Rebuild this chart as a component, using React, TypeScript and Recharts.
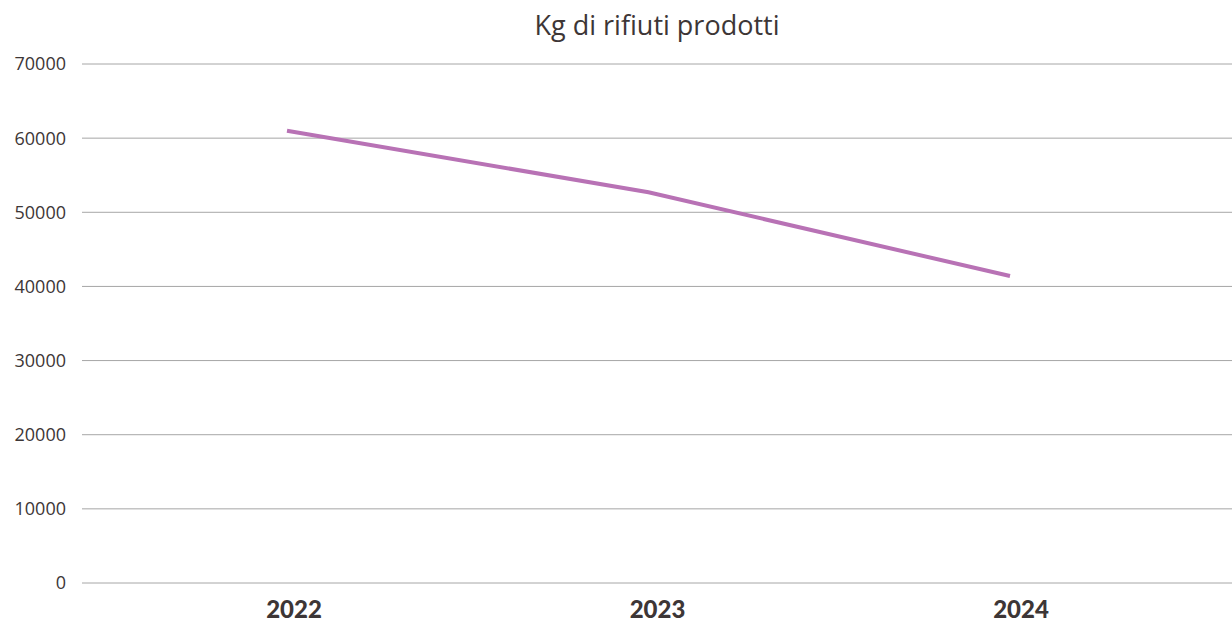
import React from 'react';
import { LineChart, Line, XAxis, YAxis, CartesianGrid } from 'recharts';

const years = ['2022', '2023', '2024'];
const rifiuti = [61000, 52700, 41400];
const yTicks = [0, 10000, 20000, 30000, 40000, 50000, 60000, 70000];

const data = years.map((year, i) => ({ year, kg: rifiuti[i] }));

const textColor = '#3d3636';

export default function App() {
  return (
    <div style={{ position: 'absolute', left: 0, top: 0, width: 1232, height: 623, background: '#fff' }}>
      <div
        style={{
          position: 'absolute',
          left: 82,
          width: 1150,
          top: 6,
          textAlign: 'center',
          fontFamily: '"Open Sans", sans-serif',
          fontSize: 27,
          color: textColor,
        }}
      >
        Kg di rifiuti prodotti
      </div>
      <LineChart width={1232} height={623} data={data} margin={{ top: 64, right: 0, bottom: 0, left: 0 }}>
        <CartesianGrid vertical={false} stroke="#a6a6a6" strokeWidth={1} />
        <XAxis
          dataKey="year"
          xAxisId="labels"
          axisLine={false}
          tickLine={false}
          tickSize={0}
          tickMargin={18}
          padding={{ left: 212, right: 211 }}
          tick={{ fill: textColor, fontSize: 24, fontWeight: 900, fontFamily: 'Lato, sans-serif' }}
          height={40}
        />
        <XAxis dataKey="year" xAxisId="line" hide padding={{ left: 205, right: 222 }} />
        <YAxis
          domain={[0, 70000]}
          ticks={yTicks}
          axisLine={false}
          tickLine={false}
          tickSize={0}
          tickMargin={16}
          width={82}
          tick={{ fill: textColor, fontSize: 18, fontFamily: '"Open Sans", sans-serif' }}
        />
        <Line
          xAxisId="line"
          type="linear"
          dataKey="kg"
          stroke="#b872b5"
          strokeWidth={4}
          dot={false}
          activeDot={false}
          isAnimationActive={false}
        />
      </LineChart>
    </div>
  );
}
